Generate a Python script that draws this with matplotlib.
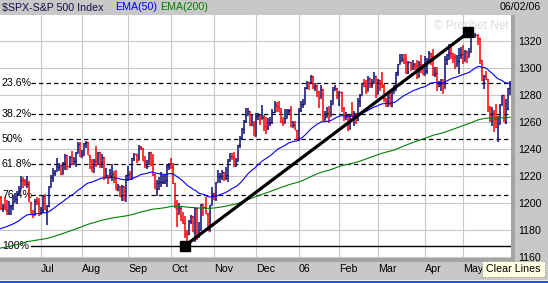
import numpy as np
import pandas as pd
import matplotlib
matplotlib.use("Agg")
import matplotlib.pyplot as plt
from matplotlib.patches import Rectangle
from matplotlib.transforms import blended_transform_factory

plt.rcParams["font.family"] = ["Liberation Sans", "DejaVu Sans"]

W, H = 548, 283

# trading days shown (one year ending 06/02/06)
holidays = ["2005-07-04", "2005-09-05", "2005-11-24", "2005-12-26", "2006-01-02",
            "2006-01-16", "2006-02-20", "2006-04-14", "2006-05-29"]
days = pd.bdate_range("2005-06-03", "2006-06-02")
days = days[~days.isin(pd.to_datetime(holidays))]

prev_close = 1204.3  # close before the first bar
closes = [
    1196.0, 1197.3, 1194.7, 1192.2, 1197.7, 1198.1, 1200.8, 1203.0, 1206.6, 1210.0,
    1217.0, 1216.1, 1213.6, 1213.9, 1200.7, 1191.6, 1190.7, 1201.6, 1199.9, 1191.3,
    1194.4, 1205.0, 1194.9, 1197.9, 1211.9, 1219.4, 1222.2, 1223.3, 1226.5, 1227.9,
    1221.1, 1229.4, 1235.2, 1227.0, 1233.7, 1229.0, 1231.2, 1236.8, 1243.7, 1234.2,
    1235.4, 1244.1, 1245.0, 1235.9, 1226.4, 1223.1, 1231.4, 1229.1, 1237.8, 1230.4,
    1233.9, 1219.3, 1221.0, 1219.0, 1219.7, 1221.7, 1217.6, 1209.6, 1212.4, 1205.1,
    1212.3, 1208.4, 1220.3,
    1221.6, 1218.0, 1233.4, 1236.4, 1231.7, 1241.5, 1240.6, 1231.2, 1227.2, 1227.7,
    1237.9, 1231.0, 1221.3, 1210.2, 1214.6, 1215.3, 1215.6, 1215.7, 1216.9, 1227.7, 1228.8,
    1226.7, 1214.5, 1196.4, 1191.5, 1195.9, 1187.3, 1184.9, 1177.7, 1176.8, 1186.6,
    1190.1, 1178.1, 1195.8, 1177.8, 1179.6, 1199.4, 1196.5, 1191.4, 1179.0, 1198.4, 1207.0,
    1202.8, 1215.4, 1219.9, 1220.1, 1222.8, 1218.6, 1220.7, 1230.9, 1234.7, 1233.8,
    1229.0, 1231.2, 1242.8, 1248.3, 1254.6, 1261.2, 1265.6, 1268.3, 1257.5, 1257.5, 1249.5,
    1264.7, 1265.1, 1262.1, 1263.7, 1257.4, 1255.8, 1259.4, 1260.4, 1267.4, 1272.7,
    1270.9, 1267.3, 1259.9, 1259.6, 1262.8, 1268.1, 1268.7, 1256.5, 1258.2, 1254.4, 1248.3,
    1268.8, 1273.5, 1273.5, 1285.5, 1290.2, 1289.7, 1294.2, 1286.1, 1287.6, 1283.0,
    1277.9, 1285.0, 1261.5, 1263.8, 1266.9, 1264.7, 1273.8, 1283.7, 1285.2, 1280.1,
    1282.5, 1270.8, 1264.0, 1265.0, 1254.8, 1265.7, 1263.8, 1266.7, 1262.9, 1275.5,
    1280.0, 1289.4, 1287.2, 1283.0, 1292.7, 1287.8, 1289.4, 1294.1, 1280.7,
    1291.2, 1289.1, 1287.2, 1278.3, 1275.9, 1278.5, 1272.2, 1281.4, 1284.1, 1297.5,
    1303.0, 1305.3, 1307.3, 1305.1, 1297.2, 1305.0, 1301.7, 1302.9, 1301.6, 1293.2,
    1302.9, 1300.3, 1294.9,
    1297.8, 1305.9, 1311.6, 1309.0, 1295.5, 1296.6, 1286.6, 1288.1, 1289.1, 1285.3,
    1307.3, 1309.9, 1311.5, 1311.3, 1308.1, 1301.7, 1305.4, 1309.7, 1310.6,
    1305.2, 1313.2, 1308.1, 1312.3, 1325.8, 1324.7, 1325.1, 1322.9, 1305.9, 1291.2,
    1294.5, 1292.1, 1270.3, 1261.8, 1267.0, 1262.1, 1256.6, 1258.6, 1272.9, 1280.2,
    1259.8, 1270.1,
    1285.7, 1288.2,
]
highs = [
    1205.1, 1198.8, 1204.1, 1201.9, 1201.0, 1198.3, 1206.0, 1207.5, 1208.9, 1212.2,
    1219.6, 1219.1, 1217.8, 1219.6, 1216.5, 1200.7, 1194.3, 1202.5, 1204.1, 1203.3,
    1197.2, 1205.9, 1206.3, 1198.5, 1212.7, 1220.5, 1225.5, 1224.5, 1233.2, 1229.5,
    1228.0, 1230.3, 1236.6, 1235.8, 1234.9, 1238.4, 1234.0, 1237.6, 1245.0, 1245.0,
    1239.1, 1244.7, 1245.9, 1245.0, 1235.9, 1232.3, 1232.5, 1242.6, 1237.8, 1237.8,
    1236.4, 1233.9, 1225.8, 1221.0, 1225.1, 1228.8, 1223.8, 1224.5, 1213.7, 1212.4,
    1213.4, 1212.3, 1220.4,
    1227.3, 1224.0, 1233.6, 1237.1, 1236.4, 1243.1, 1242.6, 1240.6, 1234.7, 1231.9,
    1237.9, 1237.9, 1236.5, 1221.5, 1216.6, 1218.8, 1222.6, 1220.4, 1220.9, 1228.4, 1229.6,
    1233.3, 1229.9, 1214.5, 1202.1, 1199.7, 1196.5, 1192.9, 1190.0, 1179.6, 1187.1,
    1191.1, 1190.1, 1195.8, 1195.8, 1185.4, 1199.4, 1199.4, 1204.0, 1192.7, 1198.4, 1211.4,
    1207.3, 1215.4, 1224.7, 1222.5, 1224.2, 1222.8, 1226.6, 1232.4, 1237.2, 1237.2,
    1237.6, 1233.0, 1242.8, 1249.6, 1255.9, 1261.9, 1270.6, 1270.2, 1268.4, 1266.2, 1260.6,
    1266.8, 1266.9, 1265.1, 1272.9, 1265.0, 1263.9, 1263.1, 1263.9, 1270.0, 1275.8,
    1275.2, 1275.8, 1270.5, 1263.9, 1269.4, 1269.8, 1269.8, 1271.8, 1261.1, 1260.6, 1254.4,
    1270.2, 1275.4, 1276.9, 1286.1, 1290.8, 1290.2, 1294.9, 1294.2, 1289.0, 1287.6,
    1283.0, 1287.8, 1285.0, 1268.2, 1271.0, 1271.9, 1276.4, 1286.4, 1287.8, 1285.2,
    1283.4, 1282.5, 1270.9, 1267.5, 1265.0, 1266.0, 1274.6, 1268.0, 1266.7, 1278.2,
    1281.0, 1289.4, 1291.9, 1291.6, 1294.2, 1293.1, 1292.1, 1297.6, 1294.1,
    1291.8, 1291.2, 1297.3, 1288.2, 1278.3, 1281.0, 1282.7, 1284.4, 1287.9, 1297.6,
    1303.4, 1310.4, 1310.9, 1310.6, 1310.9, 1305.6, 1305.0, 1306.5, 1303.7, 1306.2,
    1305.6, 1310.2, 1303.0,
    1309.1, 1307.6, 1312.8, 1311.6, 1314.1, 1300.7, 1300.7, 1290.9, 1292.1, 1292.1,
    1309.0, 1310.4, 1318.2, 1317.7, 1311.3, 1310.8, 1310.0, 1315.0, 1316.0,
    1317.2, 1313.7, 1313.2, 1315.1, 1326.5, 1326.7, 1326.6, 1325.2, 1322.6, 1305.9,
    1294.8, 1297.9, 1292.1, 1271.9, 1271.2, 1268.8, 1273.7, 1264.5, 1273.2, 1280.5,
    1280.2, 1277.3,
    1285.7, 1290.7,
]
lows = [
    1194.8, 1192.8, 1194.3, 1191.1, 1191.1, 1191.0, 1194.5, 1200.2, 1198.9, 1205.5,
    1210.0, 1210.7, 1212.2, 1211.2, 1200.2, 1191.5, 1188.3, 1190.7, 1198.7, 1190.5,
    1191.3, 1192.3, 1194.8, 1183.6, 1197.2, 1211.9, 1215.6, 1219.6, 1223.3, 1223.3,
    1221.0, 1221.1, 1224.1, 1224.1, 1225.6, 1228.2, 1229.0, 1226.7, 1236.8, 1234.2,
    1233.8, 1235.4, 1240.6, 1235.2, 1225.4, 1222.7, 1223.1, 1226.6, 1228.3, 1225.9,
    1226.2, 1216.8, 1218.3, 1214.0, 1219.0, 1216.5, 1214.4, 1209.3, 1209.0, 1204.2,
    1201.1, 1201.3, 1200.7,
    1216.2, 1217.6, 1218.0, 1230.8, 1229.5, 1231.7, 1239.2, 1231.2, 1226.2, 1225.2,
    1228.4, 1227.7, 1220.1, 1209.9, 1205.4, 1209.8, 1211.8, 1213.6, 1213.7, 1211.6, 1224.2,
    1225.2, 1214.0, 1196.4, 1181.9, 1191.5, 1186.1, 1184.5, 1174.0, 1168.2, 1175.8,
    1184.5, 1178.1, 1170.6, 1172.0, 1173.6, 1179.6, 1190.2, 1191.4, 1178.9, 1179.0, 1198.4,
    1201.7, 1201.1, 1215.4, 1214.5, 1217.3, 1216.2, 1216.9, 1215.1, 1230.9, 1231.8,
    1226.4, 1226.8, 1231.2, 1240.7, 1246.9, 1251.4, 1259.5, 1265.6, 1257.2, 1257.5, 1249.4,
    1249.4, 1261.4, 1258.1, 1262.1, 1253.3, 1250.9, 1254.2, 1257.0, 1258.9, 1267.1,
    1267.7, 1267.3, 1259.3, 1257.2, 1259.6, 1262.7, 1265.9, 1256.5, 1256.5, 1254.2, 1246.6,
    1245.7, 1267.7, 1270.3, 1273.5, 1284.8, 1283.8, 1288.1, 1285.0, 1282.8, 1278.6,
    1270.3, 1277.9, 1260.9, 1261.5, 1263.8, 1259.4, 1264.7, 1273.8, 1283.7, 1276.9,
    1271.9, 1267.7, 1261.0, 1261.5, 1253.2, 1254.8, 1263.8, 1256.9, 1258.3, 1260.8,
    1271.1, 1280.0, 1286.0, 1280.8, 1283.0, 1285.6, 1285.6, 1289.4, 1277.6,
    1280.7, 1283.2, 1285.5, 1275.1, 1271.1, 1271.0, 1272.2, 1271.1, 1281.4, 1284.1,
    1294.0, 1303.0, 1305.3, 1303.1, 1295.8, 1295.8, 1298.1, 1298.9, 1299.1, 1291.8,
    1293.2, 1296.7, 1294.9,
    1294.9, 1295.8, 1305.9, 1302.4, 1294.2, 1293.2, 1282.9, 1286.5, 1283.4, 1280.7,
    1285.3, 1302.8, 1306.4, 1306.6, 1303.8, 1299.2, 1301.7, 1295.6, 1306.9,
    1303.5, 1305.2, 1303.9, 1308.1, 1312.3, 1322.9, 1322.5, 1317.7, 1303.5, 1290.4,
    1284.5, 1291.5, 1267.6, 1260.1, 1257.0, 1252.9, 1255.9, 1245.3, 1258.6, 1272.9,
    1259.8, 1258.9,
    1269.2, 1280.2,
]

# moving averages, seeded with the values read at the left edge
ema50_start = 1180.0
ema200_start = 1166.0

# trend line drawn between the two squares
trend_x = [91, 230.5]
trend_y = [1168.2, 1326.7]

fib_ratios = [0.236, 0.382, 0.5, 0.618, 0.764, 1.0]
fib_labels = ["23.6%", "38.2%", "50%", "61.8%", "76.4%", "100%"]

month_labels = ["Jul", "Aug", "Sep", "Oct", "Nov", "Dec", "06", "Feb", "Mar", "Apr", "May"]

n = len(days)
x = np.arange(n)
closes = np.array(closes)
highs = np.array(highs)
lows = np.array(lows)
opens = np.concatenate([[prev_close], closes[:-1]])

ema50 = pd.Series(np.concatenate([[ema50_start], closes])).ewm(span=50, adjust=False).mean().values[1:]
ema200 = pd.Series(np.concatenate([[ema200_start], closes])).ewm(span=200, adjust=False).mean().values[1:]

month_starts = [i for i in range(1, n) if days[i].month != days[i - 1].month][:len(month_labels)]

gray = "#c8c8c8"
fig = plt.figure(figsize=(W / 100, H / 100), dpi=100, facecolor=gray)
ax = fig.add_axes([0, 25 / H, 511 / W, 243 / H])
ax.set_facecolor("white")
for s in ax.spines.values():
    s.set_visible(False)

ax.set_xlim(-0.25, 251.5)
ax.set_ylim(1158.9, 1339.7)

# grid
ax.set_xticks(month_starts)
ax.set_xticklabels(month_labels, ha="left")
ax.set_yticks(np.arange(1160, 1321, 20))
ax.yaxis.tick_right()
ax.tick_params(axis="y", length=0, pad=5, labelsize=7.7, colors="black")
ax.tick_params(axis="x", length=0, pad=4, labelsize=7.7, colors="black")
ax.grid(True, color="#c8c8c8", lw=0.8, zorder=0)
ax.set_axisbelow(True)

# fibonacci retracement lines
hi, lo = trend_y[1], trend_y[0]
lbl = blended_transform_factory(fig.transFigure, ax.transData)
for r, t in zip(fib_ratios, fib_labels):
    lvl = hi - r * (hi - lo)
    if r == 1.0:
        ax.plot([15, 251.5], [lvl, lvl], color="black", lw=1.0, zorder=1)
    else:
        ax.plot([15, 251.5], [lvl, lvl], color="black", lw=0.9, dashes=(3.5, 2.5), zorder=1)
    ax.text(2 / W, lvl, t, transform=lbl, fontsize=7.7, va="center", ha="left", zorder=1)

# OHLC bars
cols = np.where(closes >= opens, "#0a0a70", "#ff0000")
ax.vlines(x, lows, highs, colors=cols, lw=1.1, zorder=2)
ax.hlines(opens, x - 0.5, x, colors=cols, lw=1.0, zorder=2)
ax.hlines(closes, x, x + 0.5, colors=cols, lw=1.0, zorder=2)

ax.plot(x, ema50, color="#0000ff", lw=0.8, zorder=3)
ax.plot(x, ema200, color="#008000", lw=0.8, zorder=3)

ax.plot(trend_x, trend_y, color="black", lw=2.3, zorder=4, solid_capstyle="butt")
ax.plot(trend_x, trend_y, "s", color="black", ms=6.5, zorder=5)

# watermark
ax.text(0.995, 0.955, "\u00a9 Prophet.Net", transform=ax.transAxes, ha="right", va="center",
        fontsize=8.5, color="#dcdcdc", zorder=1)

# header
fig.text(2 / W, 1 - 7.5 / H, "$SPX-S&P 500 Index", fontsize=7.7, color="#10104a", va="center")
fig.text(115 / W, 1 - 7.5 / H, "EMA(50)", fontsize=7.7, color="#0000ff", va="center")
fig.text(160 / W, 1 - 7.5 / H, "EMA(200)", fontsize=7.7, color="#008000", va="center")
fig.text(541 / W, 1 - 7.5 / H, "06/02/06", fontsize=7.7, color="black", va="center", ha="right")

# frame strips around the plot area
fig.add_artist(Rectangle((511 / W, 21 / H), 4 / W, 247 / H, transform=fig.transFigure,
                         color="#a4a4a4", lw=0, zorder=0))
fig.add_artist(Rectangle((0, 21 / H), 515 / W, 4 / H, transform=fig.transFigure,
                         color="#a4a4a4", lw=0, zorder=0))
fig.add_artist(Rectangle((0, 0), 1, 2 / H, transform=fig.transFigure,
                         color="#2850c8", lw=0, zorder=0))
fig.add_artist(Rectangle((0, 2 / H), 1, 1 / H, transform=fig.transFigure,
                         color="#f0f0f0", lw=0, zorder=0))

# Clear Lines button
fig.add_artist(Rectangle((482 / W, 1 - 277 / H), 63 / W, 16 / H, transform=fig.transFigure,
                         facecolor="#ffffe1", edgecolor="#808080", lw=0.7, ls=":", zorder=6))
fig.text(513.5 / W, 1 - 269 / H, "Clear Lines", fontsize=7.7, color="black",
         ha="center", va="center", zorder=7)

fig.savefig("out.png", dpi=100, facecolor=gray)
